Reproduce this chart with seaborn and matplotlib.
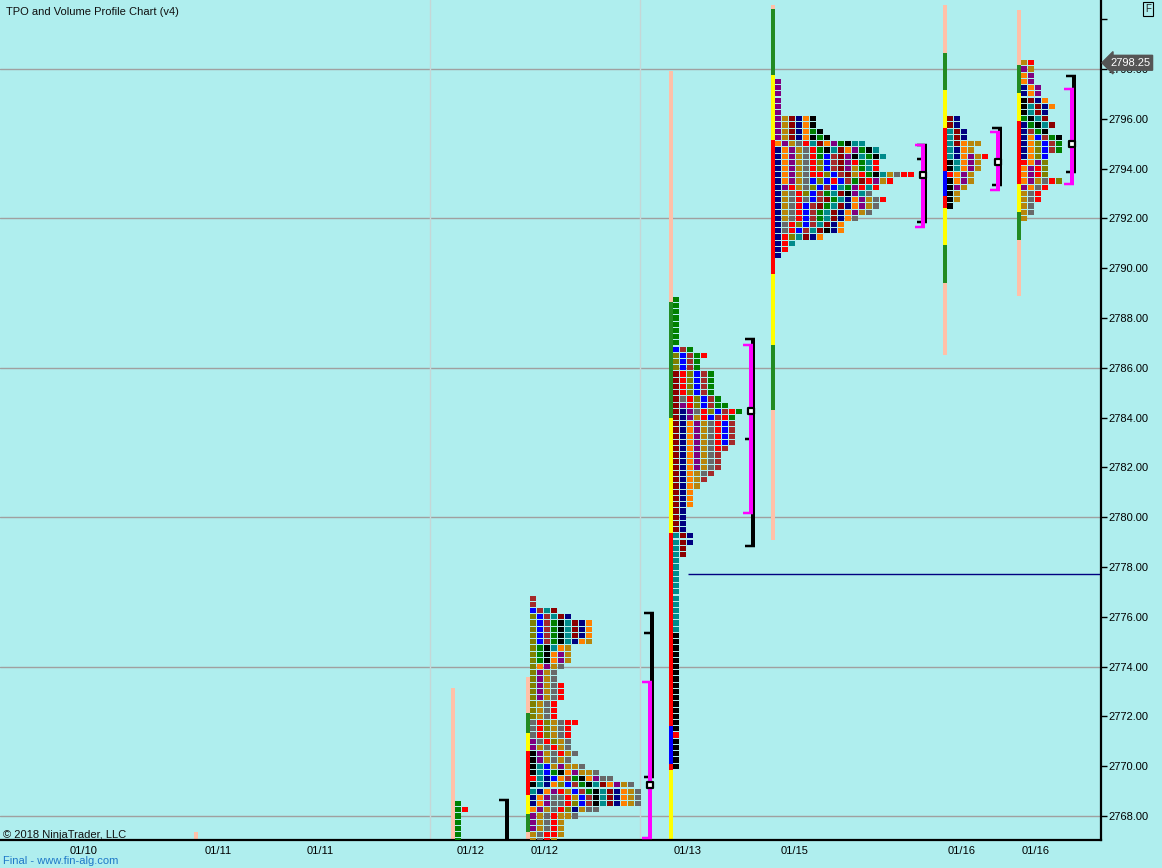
import numpy as np
import pandas as pd
import matplotlib
matplotlib.use("Agg")
import matplotlib.pyplot as plt
import matplotlib.transforms as mtransforms
from matplotlib.markers import MarkerStyle
import seaborn as sns

# ---------------- data ----------------
# TPO letters per price row (top row first, rows 0.25 apart); one char = one TPO block
tpo_colors = {
    "K": "#000000", "N": "#000080", "B": "#0000FF", "T": "#008B8B", "G": "#008000",
    "O": "#808000", "R": "#FF0000", "D": "#8B0000", "W": "#A52A2A", "P": "#800080",
    "Y": "#B8860B", "E": "#FF8000", "A": "#696969",
}
bar_colors = {"S": "#FFC0A8", "G": "#228B22", "Y": "#FFFF00", "R": "#FF0000", "B": "#0000FF"}

session_labels = ["01/12", "01/12", "01/13", "01/15", "01/16", "01/16"]
tpo_top = [2768.5, 2776.75, 2788.75, 2797.5, 2796.0, 2798.25]

p1_rows = ["G", "GR", "G", "G", "G", "G", "G"]
p2_rows = [
    "W", "W", "BWTD", "OBWTDN", "OBWGKTDNE", "OBWGKTDNE", "OBWGKTDNE", "OBWGKTNEY",
    "OGKTEY", "OGKEPY", "OGKEPY", "OEPYA", "OPYA", "OPYA", "OPYAR", "OPYAR", "OPYAR",
    "OYAR", "OYAR", "OYAR", "AROYARR", "AROYAR", "AROYAR", "PAROYA", "PYARYA",
    "KPYARYA", "KPYAYA", "KTBYPYYA", "KTBGKEPYYA", "RTNBEWGKEPAA", "KTNEOBWGKTDEPYA",
    "TNEPRYBWGKTDNEYA", "NEPAARYBWKTDNEYA", "NEPAAROBWKTDNEYA", "EPYARONYAA", "PYARYYA",
    "PYARY", "PYARY", "YARRY", "YARY",
]
p3_rows = [
    "G", "G", "G", "G", "G", "G", "G", "G",
    "BWG", "OBWGR", "OBWG", "OBWG", "DROBWG", "DROBWG", "DROBWG", "DROBWG", "DAROBWG",
    "DPROBWGG", "DNPAROBWRG", "DNPYRBWRG", "DNEPYARBW", "DNEPYARBW", "DNEPYARBW",
    "DNEPYARBW", "DNEPYARW", "DNEPYAW", "DNEPYAW", "DNEPYAW", "DNEYAW", "DNEYW", "DNEY",
    "DNE", "DNE", "DNE", "DN", "DN", "DN", "DN", "TDN", "TDN", "TD", "TD", "T", "T",
    "T", "T", "T", "T", "T", "T", "T", "T", "T", "T",
    "K", "K", "K", "K", "K", "K", "K", "K", "K", "K", "K", "K", "K", "K", "K", "K",
    "R", "K", "K", "K", "K", "K",
]
p4_rows = [
    "P", "P", "P", "P", "P", "P",
    "PYDNEK", "PYDNEK", "PYDNEGK", "PYDNEKGK", "EPYARTDEPGKTT", "NEPYARGKTDEPGKT",
    "NEPYARGBWDPKTGKT", "NEPYAROBWDPRGTR", "NEPYAROBWDPYGTR", "NEPYARROBWDYRGKTYARR",
    "NEPYABOBRBWGDRPYR", "NPRYAOBWBTGPRTR", "NYAROBWGTDKPTA", "NYARABWDGTNEPYAR",
    "NYARBWDGTDNEPYA", "NYARBWGTDNEPYA", "NYARBWGTDNEA", "NAROBWTDNE", "NARBWTDKNE",
    "NROTDNE", "NRT", "NR", "N",
]
p5_rows = ["DN", "DN", "TDN", "TDN", "TDEYY", "TNEY", "TNEPYR", "KTEPY", "KTEPY",
           "REPY", "KEPY", "KPY", "KY", "KY", "K"]
p6_rows = ["YR", "PY", "EP", "EP", "NEP", "NEP", "KDNE", "KTDNE", "KTDN", "GKTD", "NGKTD",
           "NWGK", "NEBWGK", "NEOBWG", "NEOBWG", "NEOB", "REPO", "EPRO", "EPRO", "EPYARO",
           "PEAR", "YAR", "YAR", "YA", "YA", "Y"]
tpo_rows = [p1_rows, p2_rows, p3_rows, p4_rows, p5_rows, p6_rows]

# range bar segments per session: (high, low, colour code)
bar_segments = [
    [(2773.15, 2766.0, "S")],
    [(2773.6, 2772.15, "S"), (2772.15, 2771.35, "G"), (2771.35, 2770.6, "Y"),
     (2770.6, 2768.85, "R"), (2768.85, 2768.1, "Y"), (2768.1, 2767.35, "G"),
     (2767.35, 2766.0, "S")],
    [(2797.9, 2788.65, "S"), (2788.65, 2784.0, "G"), (2784.0, 2779.35, "Y"),
     (2779.35, 2771.6, "R"), (2771.6, 2770.1, "B"), (2770.1, 2769.85, "R"),
     (2769.85, 2766.0, "Y")],
    [(2800.57, 2800.4, "S"), (2800.4, 2797.75, "G"), (2797.75, 2795.15, "Y"),
     (2795.15, 2789.75, "R"), (2789.75, 2786.9, "Y"), (2786.9, 2784.3, "G"),
     (2784.3, 2779.1, "S")],
    [(2800.57, 2798.64, "S"), (2798.64, 2797.15, "G"), (2797.15, 2795.65, "Y"),
     (2795.65, 2793.9, "R"), (2793.9, 2792.9, "B"), (2792.9, 2792.4, "R"),
     (2792.4, 2790.95, "Y"), (2790.95, 2789.4, "G"), (2789.4, 2786.5, "S")],
    [(2800.37, 2798.15, "S"), (2798.15, 2797.05, "G"), (2797.05, 2795.9, "Y"),
     (2795.9, 2793.4, "R"), (2793.4, 2792.25, "Y"), (2792.25, 2791.15, "G"),
     (2791.15, 2788.9, "S")],
]
early_bar = (2767.35, 2766.0, "S")   # tiny bar of the 01/10 session

# value-area brackets and POC
va_black_hi = [2768.64, 2776.15, 2787.15, 2794.95, 2795.65, 2797.7]
va_black_lo = [2766.0, 2769.57, 2778.85, 2791.85, 2793.35, 2793.85]
va_black_mid = [None, 2775.35, 2783.15, 2794.4, None, None]
va_mag_hi = [None, 2773.4, 2786.9, 2794.95, 2795.45, 2797.2]
va_mag_lo = [None, 2767.1, 2780.15, 2791.65, 2793.15, 2793.4]
poc = [None, 2769.25, 2784.25, 2793.75, 2794.25, 2795.0]

naked_level = 2777.7
grid_levels = [2768, 2774, 2780, 2786, 2792, 2798]
y_ticks = [2768, 2770, 2772, 2774, 2776, 2778, 2780, 2782, 2784, 2786, 2788, 2790,
           2792, 2794, 2796, 2798, 2800]
y_labels = ["2768.00", "2770.00", "2772.00", "2774.00", "2776.00", "2778.00", "2780.00",
            "2782.00", "2784.00", "2786.00", "2788.00", "2790.00", "2792.00", "2794.00",
            "2796.00", "2798.00", ""]
x_labels = ["01/10", "01/11", "01/11", "01/12", "01/12", "01/13", "01/15", "01/16", "01/16"]
last_price = 2798.25

# ---------------- layout (x in TPO column slots, 1 slot = 7 px) ----------------
SLOT = 7.0
session_x = [64.43, 75.14, 95.57, 110.14, 134.71, 145.29]
early_x = 28.0
bracket_x = [72.43, 93.14, 107.57, 132.21, 142.79, 153.36]
x_label_pos = [12.0, 31.14, 45.71, 67.29, 77.86, 98.29, 113.57, 137.43, 148.0]
separators = [61.43, 91.43]

BG = "#AFEEEE"
sns.set_style("white")
plt.rcParams["font.family"] = ["Liberation Sans", "DejaVu Sans"]

W, H = 1162, 868
fig = plt.figure(figsize=(W / 100, H / 100), dpi=100, facecolor=BG)
ax = fig.add_axes([0, 28 / H, 1101 / W, 840 / H])
ax.set_facecolor(BG)
ppu = 24.9  # pixels per price point
ax.set_ylim(2798 - (840 - 69) / ppu, 2798 + 69 / ppu)
ax.set_xlim(0, 1101 / SLOT)

# grid & separators
for g in grid_levels:
    ax.axhline(g, color="#A0A0A0", lw=1.0, zorder=1)
for sx in separators:
    ax.axvline(sx, color="#C6D6D6", lw=1.0, zorder=1)
ax.hlines(naked_level, 98.3, 1101 / SLOT, color="#000080", lw=1.0, zorder=1)

# range bars
def draw_bar(xc, seg):
    hi, lo, c = seg
    ax.bar(xc, hi - lo, bottom=lo, width=4 / SLOT, color=bar_colors[c], linewidth=0, zorder=2)

draw_bar(early_x, early_bar)
for sx, segs in zip(session_x, bar_segments):
    for seg in segs:
        draw_bar(sx + 2 / SLOT, seg)

# TPO blocks
recs = []
for sx, top, rows in zip(session_x, tpo_top, tpo_rows):
    for r, s in enumerate(rows):
        for j, ch in enumerate(s):
            recs.append({"x": sx + 1 + j, "y": top - 0.25 * r, "code": ch})
df = pd.DataFrame(recs)
rect = MarkerStyle([(-0.5, -0.43), (0.5, -0.43), (0.5, 0.43), (-0.5, 0.43), (-0.5, -0.43)])
sns.scatterplot(data=df, x="x", y="y", hue="code", palette=tpo_colors, marker=rect,
                s=18.7, linewidth=0, edgecolor="none", legend=False, ax=ax, zorder=3)

# brackets
px = 1 / SLOT
for i, bx in enumerate(bracket_x):
    lw_v = 4 * 0.72
    lw_t = 2.5 * 0.72
    ax.plot([bx, bx], [va_black_lo[i], va_black_hi[i]], color="black", lw=lw_v,
            solid_capstyle="butt", zorder=4)
    for yv in (va_black_hi[i], va_black_lo[i]):
        ax.plot([bx - 8 * px, bx + 2 * px], [yv, yv], color="black", lw=lw_t,
                solid_capstyle="butt", zorder=4)
    if va_black_mid[i] is not None:
        ax.plot([bx - 8 * px, bx - 2 * px], [va_black_mid[i]] * 2, color="black", lw=lw_t,
                solid_capstyle="butt", zorder=4)
    if va_mag_hi[i] is not None:
        mx = bx - 2 * px
        ax.plot([mx, mx], [va_mag_lo[i], va_mag_hi[i]], color="#FF00FF", lw=lw_v,
                solid_capstyle="butt", zorder=5)
        for yv in (va_mag_hi[i], va_mag_lo[i]):
            ax.plot([mx - 8 * px, mx + 2 * px], [yv, yv], color="#FF00FF", lw=lw_t,
                    solid_capstyle="butt", zorder=5)
    if poc[i] is not None:
        ax.scatter([bx - 2 * px], [poc[i]], marker="s", s=18.7, facecolor="white",
                   edgecolor="black", linewidth=1.6, zorder=6)

# axes styling
for side in ("left", "top"):
    ax.spines[side].set_visible(False)
for side in ("right", "bottom"):
    ax.spines[side].set_visible(True)
    ax.spines[side].set_color("black")
    ax.spines[side].set_linewidth(1.6)
ax.yaxis.tick_right()
ax.set_yticks(y_ticks)
ax.set_yticklabels(y_labels)
ax.tick_params(axis="y", direction="out", length=4, width=1, pad=1.5, labelsize=8,
               colors="black", left=False, right=True)
ax.set_xticks(x_label_pos)
ax.set_xticklabels(x_labels)
ax.tick_params(axis="x", length=0, pad=4.5, labelsize=8, colors="black")
ax.set_xlabel("")
ax.set_ylabel("")
ax.grid(False)

# last price tag
tr = mtransforms.blended_transform_factory(ax.transAxes, ax.transData)
ax.text(1.0 + 9 / 1101, last_price, "2798.25", transform=tr, ha="left", va="center",
        color="white", fontsize=8, clip_on=False, zorder=20,
        bbox=dict(boxstyle="larrow,pad=0.22", fc="#555555", ec="#555555"))

# texts
fig.text(6 / W, 1 - 12 / H, "TPO and Volume Profile Chart (v4)", fontsize=8,
         color="#101010", ha="left", va="center")
fig.text(3 / W, 1 - 835 / H, "\u00a9 2018 NinjaTrader, LLC", fontsize=8,
         color="#101010", ha="left", va="center")
fig.text(3 / W, 1 - 861 / H, "Final - www.fin-alg.com", fontsize=8,
         color="#1E78C8", ha="left", va="center")
fig.text(1148 / W, 1 - 9 / H, "F", fontsize=7, color="#202020", ha="center", va="center",
         bbox=dict(boxstyle="square,pad=0.2", fc="none", ec="black", lw=0.8))

fig.savefig("out.png", dpi=100, facecolor=BG)
